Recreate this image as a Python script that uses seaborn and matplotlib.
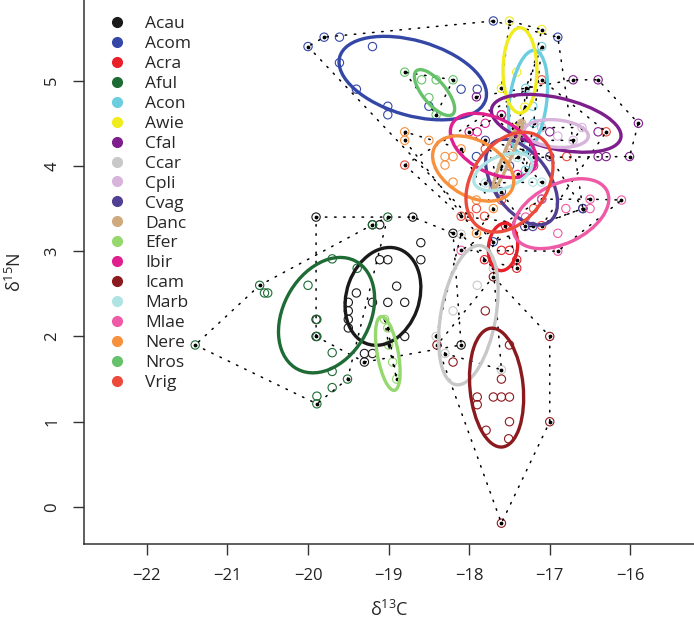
import numpy as np
import matplotlib
matplotlib.use("Agg")
import matplotlib.pyplot as plt
from matplotlib.patches import Ellipse
from matplotlib.lines import Line2D
import seaborn as sns

# species and colours
species = ["Acau", "Acom", "Acra", "Aful", "Acon", "Awie", "Cfal", "Ccar", "Cpli", "Cvag",
           "Danc", "Efer", "Ibir", "Icam", "Marb", "Mlae", "Nere", "Nros", "Vrig"]
colours = ["#1a1a1a", "#3447a6", "#e8202a", "#1e6b35", "#6acde0", "#f0ec1e", "#7e1e8c",
           "#c8c8c8", "#d8b4dc", "#513f94", "#cfaa7e", "#95d86e", "#e0208f", "#8b1a1f",
           "#b0e4e4", "#ee5aa5", "#f7913d", "#66c26a", "#ec4b3c"]

# raw isotope values per species (d13C, d15N)
acau_c = [-19.90, -18.70, -19.20, -19.11, -18.60, -18.60, -19.11, -19.01, -19.40, -18.90, -19.20,
          -19.01, -18.80, -19.50, -19.50, -19.50, -19.50, -18.80, -19.30, -19.20, -19.30, -18.20, -18.10,
          -19.90, -19.90]
acau_n = [3.40, 3.40, 3.31, 3.31, 3.10, 2.90, 2.90, 2.90, 2.51, 2.59, 2.40,
          2.40, 2.40, 2.40, 2.30, 2.20, 2.10, 2.00, 1.80, 1.80, 1.70, 3.21, 1.90,
          2.20, 2.00]
acom_c = [-20.00, -19.80, -19.61, -19.20, -19.61, -19.40, -19.01, -19.01, -18.50, -18.10, -17.90,
          -17.70, -16.90, -17.91, -16.59, -17.70]
acom_n = [5.40, 5.51, 5.51, 5.40, 5.21, 4.90, 4.70, 4.60, 4.70, 4.90, 4.90,
          5.70, 5.51, 4.11, 3.50, 3.11]
acra_c = [-17.60, -17.50, -17.81, -17.41, -17.41, -17.55]
acra_n = [3.01, 3.01, 2.90, 2.90, 2.80, 3.30]
aful_c = [-21.40, -20.60, -20.54, -20.50, -20.00, -19.89, -19.89, -19.70, -19.70, -19.70, -19.89,
          -19.89, -19.51, -19.70, -19.39, -19.01, -19.20]
aful_n = [1.90, 2.60, 2.51, 2.51, 2.60, 2.20, 2.00, 1.81, 1.59, 1.40, 1.30,
          1.21, 1.50, 2.91, 2.80, 3.40, 3.31]
acon_c = [-17.10, -17.30, -17.21, -17.35, -17.20, -17.30]
acon_n = [5.40, 4.91, 4.70, 4.30, 4.50, 3.95]
awie_c = [-17.50, -17.10, -17.60, -17.41, -17.31, -17.45]
awie_n = [5.70, 5.60, 4.91, 5.10, 4.69, 4.45]
cfal_c = [-16.71, -16.40, -15.90, -16.01, -16.40, -16.30, -16.40, -17.00, -17.91, -17.60, -17.20]
cfal_n = [5.01, 5.01, 4.50, 4.11, 4.11, 4.11, 4.40, 4.40, 4.81, 4.60, 4.10]
ccar_c = [-18.41, -17.60, -18.10, -17.90, -18.20, -17.70, -18.30]
ccar_n = [2.00, 1.61, 3.20, 2.60, 2.30, 2.80, 1.80]
cpli_c = [-16.71, -17.10, -16.90, -16.60, -17.20]
cpli_n = [4.30, 4.45, 4.35, 4.45, 4.30]
cvag_c = [-17.31, -17.21, -16.59, -17.10, -17.00, -17.80, -17.50, -17.60]
cvag_n = [3.29, 3.29, 3.50, 3.61, 4.11, 4.30, 4.00, 3.70]
danc_c = [-17.35, -17.50, -17.70, -17.45]
danc_n = [4.50, 4.15, 3.75, 4.30]
efer_c = [-19.01, -18.90, -19.00, -18.95, -19.05]
efer_n = [2.10, 1.50, 1.90, 1.70, 2.20]
ibir_c = [-18.00, -17.80, -17.50, -17.20, -17.90, -17.40, -17.60]
ibir_n = [4.40, 4.50, 4.20, 4.00, 4.40, 3.90, 4.60]
icam_c = [-17.50, -17.60, -17.90, -17.90, -17.70, -17.60, -17.50, -17.50, -17.79, -17.51, -17.00,
          -17.00, -17.60, -18.40, -17.70, -17.80, -18.20]
icam_n = [1.90, 1.50, 1.29, 1.20, 1.29, 1.29, 1.29, 1.00, 0.90, 0.80, 2.00,
          1.00, -0.19, 1.90, 2.70, 2.30, 1.70]
marb_c = [-17.21, -17.10, -17.80, -17.60, -17.40]
marb_n = [3.81, 3.81, 3.80, 4.00, 4.10]
mlae_c = [-16.11, -16.50, -16.50, -16.80, -16.90, -16.90, -17.10, -18.10, -17.30]
mlae_n = [3.60, 3.61, 3.50, 3.50, 3.21, 3.00, 3.61, 3.01, 3.40]
nere_c = [-18.80, -18.80, -18.50, -18.10, -18.30, -18.20, -18.30, -18.20, -17.91, -17.70, -17.91]
nere_n = [4.40, 4.30, 4.30, 4.20, 4.11, 4.11, 4.01, 3.81, 3.60, 3.50, 3.21]
nros_c = [-18.80, -18.59, -18.41, -18.20, -18.50, -18.41]
nros_n = [5.10, 5.01, 5.01, 5.01, 4.80, 4.60]
vrig_c = [-18.80, -16.30, -16.79, -17.10, -18.10, -18.00, -17.91, -17.81, -17.60, -17.20, -17.10, -17.80]
vrig_n = [4.01, 4.40, 4.11, 5.01, 3.41, 3.41, 3.50, 3.41, 3.60, 3.50, 3.30, 4.20]

values_c = [acau_c, acom_c, acra_c, aful_c, acon_c, awie_c, cfal_c, ccar_c, cpli_c, cvag_c,
            danc_c, efer_c, ibir_c, icam_c, marb_c, mlae_c, nere_c, nros_c, vrig_c]
values_n = [acau_n, acom_n, acra_n, aful_n, acon_n, awie_n, cfal_n, ccar_n, cpli_n, cvag_n,
            danc_n, efer_n, ibir_n, icam_n, marb_n, mlae_n, nere_n, nros_n, vrig_n]

# standard ellipses: centre, semi-axes, angle (deg)
ell_cx = [-19.07, -18.70, -17.58, -19.77, -17.27, -17.37, -16.92, -18.01, -16.92, -17.35,
          -17.52, -19.01, -17.70, -17.66, -17.58, -16.86, -17.95, -18.43, -17.50]
ell_cy = [2.47, 5.03, 3.05, 2.25, 4.75, 5.12, 4.50, 2.25, 4.38, 3.81,
          4.13, 1.80, 4.24, 1.40, 3.93, 3.44, 3.97, 4.86, 3.81]
ell_a = [0.59, 0.94, 0.28, 0.73, 0.61, 0.50, 0.82, 0.83, 0.40, 0.58,
         0.44, 0.44, 0.57, 0.70, 0.38, 0.63, 0.54, 0.34, 0.65]
ell_b = [0.45, 0.44, 0.18, 0.53, 0.23, 0.21, 0.30, 0.34, 0.16, 0.34,
         0.05, 0.13, 0.32, 0.33, 0.19, 0.35, 0.33, 0.14, 0.46]
ell_angle = [69, -15, 82, 57, 82, 90, -12, 79, -5, -52,
             66, 101, -25, 96, 20, 24, -27, -48, 52]

x_ticks = [-22, -21, -20, -19, -18, -17, -16]
y_ticks = [0, 1, 2, 3, 4, 5]


def convex_hull(pts):
    pts = sorted(set(map(tuple, pts)))
    if len(pts) < 3:
        return pts

    def cross(o, a, b):
        return (a[0] - o[0]) * (b[1] - o[1]) - (a[1] - o[1]) * (b[0] - o[0])

    lower, upper = [], []
    for p in pts:
        while len(lower) >= 2 and cross(lower[-2], lower[-1], p) <= 0:
            lower.pop()
        lower.append(p)
    for p in reversed(pts):
        while len(upper) >= 2 and cross(upper[-2], upper[-1], p) <= 0:
            upper.pop()
        upper.append(p)
    return lower[:-1] + upper[:-1]


sns.set_style("white")
plt.rcParams["font.family"] = ["Open Sans", "DejaVu Sans"]
plt.rcParams["mathtext.fontset"] = "custom"
plt.rcParams["mathtext.rm"] = "Open Sans"
plt.rcParams["mathtext.it"] = "Open Sans"

fig = plt.figure(figsize=(6.94, 6.25), dpi=100)
ax = fig.add_axes([84 / 694, 81 / 625, 610 / 694, 544 / 625])

# points
for c_vals, n_vals, col in zip(values_c, values_n, colours):
    ax.scatter(c_vals, n_vals, s=36, facecolors="none", edgecolors=col, linewidths=0.8, zorder=2)

# convex hulls (dotted)
for c_vals, n_vals in zip(values_c, values_n):
    hull = convex_hull(list(zip(c_vals, n_vals)))
    hx = [p[0] for p in hull] + [hull[0][0]]
    hy = [p[1] for p in hull] + [hull[0][1]]
    ax.plot(hx, hy, color="black", lw=1.1, linestyle=(0, (1, 5)), dash_capstyle="round", zorder=3)
    ax.scatter(hx[:-1], hy[:-1], s=3, color="black", zorder=3)

# standard ellipses
for i, col in enumerate(colours):
    e = Ellipse((ell_cx[i], ell_cy[i]), 2 * ell_a[i], 2 * ell_b[i], angle=ell_angle[i],
                fill=False, edgecolor=col, lw=2.4, zorder=4)
    ax.add_patch(e)

ax.set_xlim(-22.78, -15.21)
ax.set_ylim(-0.434, 5.946)
ax.set_xticks(x_ticks)
ax.set_yticks(y_ticks)
ax.set_xticklabels([f"\u2212{abs(t)}" for t in x_ticks], fontsize=12)
ax.set_yticklabels([str(t) for t in y_ticks], fontsize=12, rotation=90, va="center")
ax.tick_params(axis="both", length=8, width=1, color="#333333", pad=9, direction="out",
               bottom=True, left=True, labelcolor="#222222")
for side in ["top", "right"]:
    ax.spines[side].set_visible(False)
for side in ["left", "bottom"]:
    ax.spines[side].set_color("#333333")
    ax.spines[side].set_linewidth(1.1)

ax.set_xlabel("\u03b4$^{13}$C", fontsize=13, labelpad=12)
ax.set_ylabel("\u03b4$^{15}$N", fontsize=13, labelpad=14)

handles = [Line2D([0], [0], marker="o", linestyle="none", markersize=7,
                  markerfacecolor=col, markeredgecolor=col) for col in colours]
ax.legend(handles, species, loc="upper left", bbox_to_anchor=(0.0, 1.0), frameon=False,
          fontsize=12.5, labelspacing=0.22, handletextpad=0.6, borderaxespad=0.5)

fig.savefig("out.png", dpi=100)
